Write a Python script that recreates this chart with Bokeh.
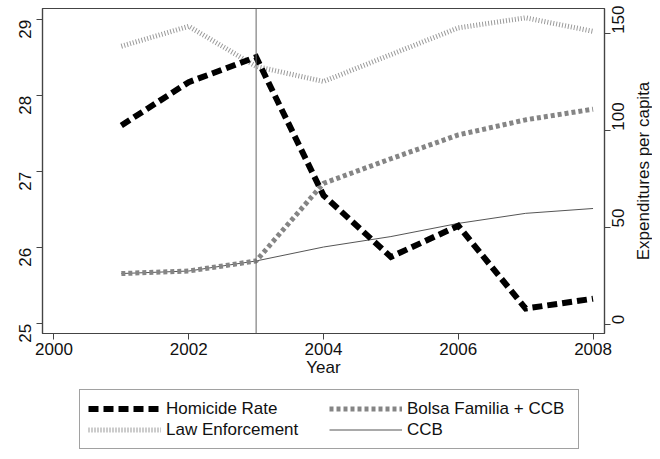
import math
from bokeh.plotting import figure
from bokeh.layouts import column, row
from bokeh.models import (Range1d, LinearAxis, FixedTicker, Span, Legend,
                          LegendItem, Label, ColumnDataSource)
from bokeh.embed import file_html
from bokeh.resources import INLINE

# ---- data ----
years = [2001, 2002, 2003, 2004, 2005, 2006, 2007, 2008]
homicide_rate = [27.61, 28.18, 28.51, 26.69, 25.88, 26.29, 25.20, 25.33]
law_enforcement = [143.6, 153.9, 133.2, 125.4, 139.3, 153.1, 158.3, 151.3]
bolsa_ccb = [26.2, 27.5, 32.7, 72.8, 85.5, 97.8, 105.6, 111.1]
ccb = [26.2, 27.5, 32.7, 39.9, 45.3, 52.1, 57.3, 59.8]
policy_year = 2003
x_ticks = [2000, 2002, 2004, 2006, 2008]
left_ticks = [25, 26, 27, 28, 29]
right_ticks = [0, 50, 100, 150]
series_names = ["Homicide Rate", "Law Enforcement", "Bolsa Familia + CCB", "CCB"]
right_title = "Expenditures per capita"

FONT = "Liberation Sans"
FS = "17px"
AXC = "#444444"
TXT = "#111111"

STY = {
    "hom": dict(line_color="black", line_width=6, line_dash="10 5", line_join="miter"),
    "le": dict(line_color="#9a9a9a", line_width=5, line_dash="1 2"),
    "bol": dict(line_color="#858585", line_width=5, line_dash="4 3"),
    "ccb": dict(line_color="#555555", line_width=1),
}

src = ColumnDataSource(dict(year=years, hom=homicide_rate, le=law_enforcement,
                            bol=bolsa_ccb, ccb=ccb))

TOP, BOT = 8, 54
p = figure(width=633, height=387, output_backend="svg", toolbar_location=None,
           x_range=Range1d(1999.83, 2008.17), y_range=Range1d(24.872, 29.149),
           min_border_left=42, min_border_right=10, min_border_top=TOP,
           min_border_bottom=BOT)
p.extra_y_ranges = {"exp": Range1d(-4.77, 163.1)}

p.xgrid.visible = False
p.ygrid.visible = False
p.outline_line_color = AXC
p.outline_line_width = 1.2
p.background_fill_color = "white"
p.border_fill_color = "white"

# lines
p.line("year", "ccb", source=src, y_range_name="exp", **STY["ccb"])
p.line("year", "le", source=src, y_range_name="exp", **STY["le"])
p.line("year", "bol", source=src, y_range_name="exp", **STY["bol"])
p.line("year", "hom", source=src, **STY["hom"])

p.add_layout(Span(location=policy_year, dimension="height",
                  line_color="#666666", line_width=1))

# axes
xa = p.xaxis[0]
xa.ticker = FixedTicker(ticks=x_ticks)
xa.axis_label = "Year"
ya = p.yaxis[0]
ya.ticker = FixedTicker(ticks=left_ticks)
ya.major_label_orientation = math.pi / 2

ra = LinearAxis(y_range_name="exp", ticker=FixedTicker(ticks=right_ticks))
ra.major_label_orientation = math.pi / 2
p.add_layout(ra, "right")

for ax in [xa, ya, ra]:
    ax.axis_line_color = AXC
    ax.axis_line_width = 1.2
    ax.major_tick_line_color = AXC
    ax.major_tick_out = 6
    ax.major_tick_in = 0
    ax.minor_tick_line_color = None
    ax.major_label_text_font = FONT
    ax.major_label_text_font_size = FS
    ax.major_label_text_color = TXT
    ax.major_label_standoff = 3
    ax.axis_label_text_font = FONT
    ax.axis_label_text_font_size = FS
    ax.axis_label_text_font_style = "normal"
    ax.axis_label_text_color = TXT
    ax.axis_label_standoff = 0
ya.major_label_standoff = 11
ra.major_label_standoff = 8

# narrow strip holding the right-hand axis title (reads bottom to top)
tf = figure(width=19, height=387, output_backend="svg", toolbar_location=None,
            x_range=Range1d(0, 1), y_range=Range1d(0, 1),
            x_axis_location=None, y_axis_location=None,
            min_border_left=0, min_border_right=0, min_border_top=TOP,
            min_border_bottom=BOT)
tf.xgrid.visible = False
tf.ygrid.visible = False
tf.outline_line_color = None
tf.background_fill_color = "white"
tf.border_fill_color = "white"
tf.add_layout(Label(x=0, y=0.5, x_units="screen", text=right_title,
                    angle=math.pi / 2, text_align="center", text_baseline="top",
                    text_font=FONT, text_font_size=FS, text_color=TXT))

# legend strip (key drawn with the same line styles)
lf = figure(width=652, height=64, output_backend="svg", toolbar_location=None,
            x_range=Range1d(0, 1), y_range=Range1d(0, 1),
            x_axis_location=None, y_axis_location=None,
            min_border_left=42, min_border_right=51, min_border_top=0,
            min_border_bottom=0)
lf.xgrid.visible = False
lf.ygrid.visible = False
lf.outline_line_color = None
lf.background_fill_color = "white"
lf.border_fill_color = "white"
key = {k: lf.line(x=[0, 1], y=[-5, -5], **STY[k]) for k in ["hom", "le", "bol", "ccb"]}

legend = Legend(items=[
    LegendItem(label=series_names[0], renderers=[key["hom"]]),
    LegendItem(label=series_names[1], renderers=[key["le"]]),
    LegendItem(label=series_names[2], renderers=[key["bol"]]),
    LegendItem(label=series_names[3], renderers=[key["ccb"]]),
], location=(37, 2), orientation="vertical", ncols=2)
legend.label_text_font = FONT
legend.label_text_font_size = FS
legend.label_text_color = TXT
legend.glyph_width = 73
legend.glyph_height = 21
legend.label_height = 21
legend.label_width = 163
legend.label_standoff = 5
legend.spacing = 0
legend.padding = 8
legend.margin = 0
legend.border_line_color = AXC
legend.border_line_width = 1
legend.background_fill_alpha = 1
lf.add_layout(legend, "center")

layout = column(row(p, tf, spacing=0), lf, spacing=0)
open("out.html", "w").write(file_html(layout, INLINE))
